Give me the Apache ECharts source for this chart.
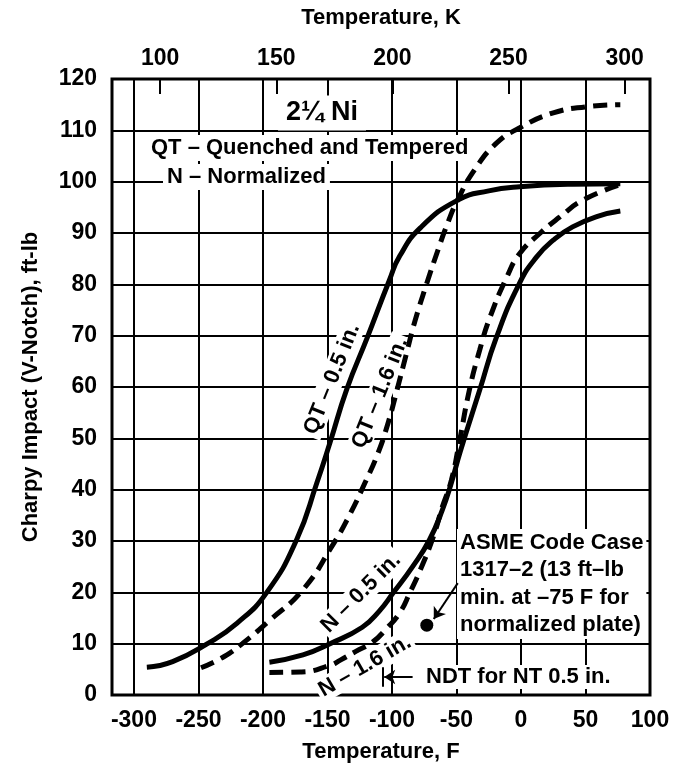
<!DOCTYPE html>
<html>
<head>
<meta charset="utf-8">
<script src="https://cdn.jsdelivr.net/npm/echarts@6/dist/echarts.min.js"></script>
<style>
  html, body { margin: 0; padding: 0; background: #fff; }
  #main { width: 682px; height: 771px; }
</style>
</head>
<body>
<div id="main"></div>
<script>
// axis ranges and ticks
const fMin = -317;
const fMax = 100;
const fTicks = [-300, -250, -200, -150, -100, -50, 0, 50, 100];
const kTicks = [100, 150, 200, 250, 300];

// Charpy curves, [temperature F, ft-lb]
const qtHalf = [[-290, 5.4], [-270, 6.5], [-243, 10], [-220, 14], [-197, 20], [-174, 30.2], [-158, 41.5], [-148, 49.2],
  [-135, 59.6], [-119, 69.7], [-102, 80.8], [-94, 85.5], [-78, 91], [-49, 96.4], [-25, 98.2], [-1, 99], [40, 99.5], [77, 99.6]];
const qtThick = [[-248, 5.3], [-230, 7.5], [-216, 10], [-195, 14.5], [-169, 20.5], [-146, 29.2], [-133, 35], [-121, 41.3],
  [-111, 47], [-103, 53], [-96, 59.5], [-89, 66.3], [-82, 73], [-73, 80.2], [-65, 86.2], [-57, 91.8], [-49, 96.5],
  [-36, 102.3], [-19, 107.5], [-1, 110.5], [25, 113.4], [51, 114.6], [77, 115]];
const nHalf = [[-195, 6.4], [-169, 7.8], [-148, 10], [-123, 13.2], [-110, 16.3], [-99, 19.9], [-84, 25], [-71, 30.2],
  [-61, 36], [-54, 41.3], [-47, 47.5], [-32, 59.4], [-19, 69.7], [-1, 80.3], [12, 85.3], [25, 88.6], [40, 91.2],
  [60, 93.3], [77, 94.3]];
const nThick = [[-195, 4.4], [-170, 4.5], [-148, 5.8], [-140, 6.8], [-128, 8.5], [-115, 10.3], [-104, 13], [-94, 16],
  [-86, 20], [-78, 24.4], [-68, 30.8], [-61, 36.6], [-54, 41.8], [-48, 49], [-40, 59.4], [-32, 67.2], [-24, 73.6],
  [-11, 81.4], [-1, 86], [15, 90], [30, 93.1], [48, 96.4], [77, 99.4]];

// ASME code case point and annotation arrows
const asmePoint = [[-73, 13.6]];
const asmeArrow = [[-49, 21.8], [-67.6, 14.8]];
const ndtArrow = [[-84, 3.5], [-106, 3.5]];
const ndtBar = [[-107.5, 1.6], [-107.5, 5.4]];

const toK = (f) => (f - 32) * 5 / 9 + 273.15;

const FONT = "'Liberation Sans', Arial, sans-serif";
const txt = { fontFamily: FONT, fontWeight: 'bold', color: '#000' };

const chart = echarts.init(document.getElementById('main'));

const curve = (name, data, dashed) => ({
  name: name,
  type: 'line',
  data: data,
  xAxisIndex: 0,
  smooth: 0.5,
  showSymbol: false,
  lineStyle: { color: '#000', width: 5, type: dashed ? [14, 8] : 'solid', cap: 'butt' },
  z: 3
});

const label = (text, x, y, deg, extra) => ({
  type: 'text',
  x: x, y: y,
  rotation: deg * Math.PI / 180,
  z: 1,
  style: Object.assign({
    text: text,
    fontFamily: FONT, fontWeight: 'bold', fontSize: 22,
    fill: '#000',
    align: 'center', verticalAlign: 'middle',
    backgroundColor: '#fff', padding: [1, 3]
  }, extra || {})
});

chart.setOption({
  animation: false,
  backgroundColor: '#fff',
  grid: {
    left: 112, right: 32, top: 79, bottom: 76,
    show: true, borderColor: '#000', borderWidth: 3, backgroundColor: 'transparent'
  },
  xAxis: [
    {
      type: 'value', position: 'bottom', min: fMin, max: fMax,
      name: 'Temperature, F', nameLocation: 'middle', nameGap: 46,
      nameTextStyle: Object.assign({ fontSize: 22 }, txt),
      axisLine: { show: false },
      axisTick: { show: false, customValues: fTicks },
      axisLabel: Object.assign({ fontSize: 23, margin: 14, customValues: fTicks,
        formatter: (v) => (v < 0 ? '-' + Math.abs(v) : String(v)) }, txt),
      splitLine: { show: true, lineStyle: { color: '#000', width: 2 } }
    },
    {
      type: 'value', position: 'top', min: toK(fMin), max: toK(fMax),
      name: 'Temperature, K', nameLocation: 'middle', nameGap: 50,
      nameTextStyle: Object.assign({ fontSize: 22 }, txt),
      axisLine: { show: false },
      axisTick: { show: true, inside: true, length: 15, customValues: kTicks, lineStyle: { color: '#000', width: 2 } },
      axisLabel: Object.assign({ fontSize: 23, margin: 9, customValues: kTicks }, txt),
      splitLine: { show: false }
    }
  ],
  yAxis: {
    type: 'value', min: 0, max: 120, interval: 10,
    name: 'Charpy Impact (V-Notch), ft-lb', nameLocation: 'middle', nameGap: 70,
    nameTextStyle: Object.assign({ fontSize: 22 }, txt),
    axisLine: { show: false },
    axisTick: { show: false },
    axisLabel: Object.assign({ fontSize: 23, margin: 15 }, txt),
    splitLine: { show: true, lineStyle: { color: '#000', width: 2 } }
  },
  series: [
    curve('QT - 0.5 in.', qtHalf, false),
    curve('QT - 1.6 in.', qtThick, true),
    curve('N - 0.5 in.', nHalf, false),
    curve('N - 1.6 in.', nThick, true),
    {
      name: 'ASME Code Case 1317-2',
      type: 'scatter', data: asmePoint, symbolSize: 13,
      itemStyle: { color: '#000', opacity: 1 }, z: 4
    },
    {
      type: 'lines', coordinateSystem: 'cartesian2d',
      symbol: ['none', 'arrow'], symbolSize: 11,
      lineStyle: { color: '#000', width: 2, opacity: 1, curveness: 0 },
      itemStyle: { color: '#000' },
      data: [{ coords: asmeArrow }, { coords: ndtArrow }],
      z: 4
    },
    {
      type: 'lines', coordinateSystem: 'cartesian2d',
      symbol: 'none',
      lineStyle: { color: '#000', width: 2, opacity: 1 },
      data: [{ coords: ndtBar }],
      z: 4
    }
  ],
  graphic: {
    elements: [
      label('2¼ Ni', 322, 113, 0, { fontSize: 27, padding: [4, 8] }),
      label('QT – Quenched and Tempered', 147, 148, 0, { align: 'left', padding: [2, 4] }),
      label('N – Normalized', 163, 177, 0, { align: 'left', padding: [2, 4] }),
      label('QT – 0.5 in.', 332, 379, 68),
      label('QT – 1.6 in.', 380, 393, 68),
      label('N – 0.5 in.', 361, 593, 45),
      label('N – 1.6 in.', 365, 666, 30),
      label('ASME Code Case\n1317–2 (13 ft–lb\nmin. at –75 F for\nnormalized plate)', 457, 529, 0,
        { align: 'left', verticalAlign: 'top', lineHeight: 27.5, padding: [0, 3] }),
      label('NDT for NT 0.5 in.', 423, 677, 0, { align: 'left', padding: [1, 3] })
    ]
  }
});
</script>
</body>
</html>
